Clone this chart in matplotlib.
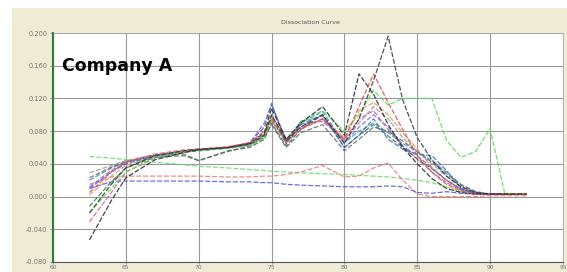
import numpy as np
import matplotlib
matplotlib.use("Agg")
import matplotlib.pyplot as plt
from matplotlib.patches import Rectangle

temps = [62.5, 64, 65, 67, 69, 70, 72, 73.5, 74.5, 75, 76, 77, 78.5, 80,
         81, 82, 83, 84, 85, 86, 87, 88, 89, 90, 91, 92.5]

# derivative values, in thousandths
black_tall = [-20, 15, 35, 50, 56, 58, 60, 64, 75, 100, 68, 85, 100, 65, 95, 142, 196, 118, 72, 45, 25, 12, 5, 3, 3, 3]
red_peak   = [5, 30, 42, 52, 57, 58, 61, 66, 80, 95, 66, 82, 95, 70, 110, 150, 115, 82, 50, 30, 15, 7, 3, 3, 3, 3]
black_2    = [-53, -5, 23, 45, 54, 57, 60, 65, 78, 108, 70, 90, 110, 75, 150, 125, 88, 60, 40, 22, 10, 5, 3, 3, 3, 3]
green_late = [-20, 10, 30, 48, 55, 56, 59, 62, 72, 95, 68, 92, 105, 80, 100, 130, 112, 120, 120, 120, 69, 48, 55, 83, 4, 3]
blue_1     = [10, 30, 40, 50, 55, 57, 60, 66, 85, 114, 65, 88, 100, 60, 75, 95, 70, 58, 52, 50, 32, 10, 4, 3, 3, 3]
purple_1   = [12, 32, 42, 50, 55, 57, 60, 65, 90, 112, 70, 83, 95, 66, 85, 100, 85, 62, 50, 35, 20, 9, 4, 3, 3, 3]
gray_1     = [29, 38, 44, 51, 56, 57, 59, 63, 75, 95, 65, 92, 98, 68, 90, 110, 95, 72, 55, 40, 25, 12, 5, 3, 3, 3]
gray_2     = [23, 36, 43, 50, 52, 44, 55, 62, 72, 88, 60, 78, 88, 56, 70, 85, 80, 68, 55, 42, 28, 14, 6, 3, 3, 3]
dkgreen    = [-12, 18, 35, 48, 50, 44, 56, 60, 70, 90, 62, 82, 100, 60, 75, 88, 74, 60, 46, 34, 20, 9, 4, 3, 3, 3]
magenta    = [-31, 5, 30, 47, 54, 56, 59, 63, 73, 93, 68, 88, 92, 70, 95, 105, 82, 62, 46, 30, 17, 8, 4, 3, 3, 3]
orange     = [2, 25, 38, 49, 55, 57, 60, 64, 74, 98, 70, 85, 95, 72, 105, 115, 100, 78, 58, 36, 20, 10, 4, 3, 3, 3]
teal       = [20, 35, 42, 50, 55, 57, 60, 64, 76, 100, 68, 90, 104, 66, 80, 90, 78, 65, 55, 44, 30, 15, 6, 3, 3, 3]
pink_flat  = [15, 24, 25, 25, 25, 25, 24, 24, 25, 25, 27, 30, 38, 24, 25, 35, 41, 20, 3, 0, 0, 0, 0, 1, 1, 1]
blue_flat  = [10, 18, 19, 19, 19, 19, 18, 18, 17, 17, 15, 14, 13, 12, 12, 12, 13, 12, 5, 4, 6, 4, 3, 3, 3, 3]
green_flat = [49, 47, 45, 42, 39, 37, 35, 33, 32, 31, 30, 29, 28, 27, 26, 25, 24, 22, 20, 17, 12, 6, 3, 3, 3, 3]

curves = [
    (green_flat, '#66dd66'), (pink_flat, '#ee7777'), (blue_flat, '#5555dd'),
    (teal, '#3399aa'), (orange, '#dd9955'), (magenta, '#cc55aa'),
    (dkgreen, '#337744'), (gray_2, '#666666'), (gray_1, '#999999'),
    (purple_1, '#8866cc'), (blue_1, '#3366dd'), (green_late, '#55dd55'),
    (black_2, '#222222'), (red_peak, '#ee4444'), (black_tall, '#333333'),
]

xticks = [60, 65, 70, 75, 80, 85, 90, 95]
yticks = [-0.080, -0.040, 0.000, 0.040, 0.080, 0.120, 0.160, 0.200]

fig = plt.figure(figsize=(5.67, 2.72), dpi=100)
fig.patch.set_facecolor('white')
bg = Rectangle((12/567, 0), 1, 1 - 8/272, transform=fig.transFigure,
               color='#efebd4', zorder=-10)
fig.add_artist(bg)
ax = fig.add_axes([53/567, 10/272, 510/567, 229/272])
ax.set_facecolor('white')

t = np.array(temps)
for vals, col in curves:
    ax.plot(t, np.array(vals)/1000, color=col, lw=0.9, dashes=(4, 1.5), alpha=0.85)

ax.set_xlim(60, 95)
ax.set_ylim(-0.08, 0.2)
ax.set_xticks(xticks)
ax.set_yticks(yticks)
ax.set_yticklabels(['%.3f' % v for v in yticks])
ax.grid(True, color='#999999', lw=0.8)
ax.set_axisbelow(True)
ax.tick_params(axis='y', labelsize=4.8, labelcolor='#777777', length=2, color='#999999', pad=2)
ax.tick_params(axis='x', labelsize=4.3, labelcolor='#777777', length=1.5, color='#999999', pad=0.5)
ax.spines['left'].set_color('#2e7d32')
ax.spines['left'].set_linewidth(1.5)
ax.spines['bottom'].set_color('#555555')
for s in ['top', 'right']:
    ax.spines[s].set_color('#aaaaaa')
    ax.spines[s].set_linewidth(0.6)

fig.text(310/567, 1 - 22/272, 'Dissociation Curve', fontsize=4.5, color='#555555',
         ha='center', va='center')
ax.text(0.018, 0.832, 'Company A', transform=ax.transAxes, fontsize=12.5,
        fontweight='bold', family='DejaVu Sans', color='black', va='baseline')

fig.savefig('out.png', dpi=100)
